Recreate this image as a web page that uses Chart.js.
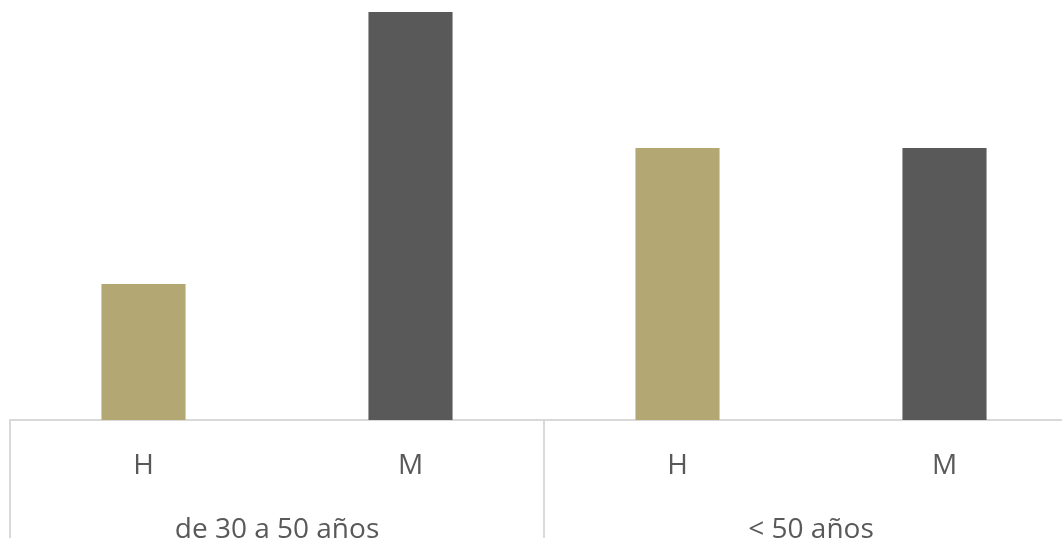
<!DOCTYPE html>
<html>
<head>
<meta charset="utf-8">
<script src="https://cdn.jsdelivr.net/npm/chart.js@4"></script>
<style>
  html, body { margin: 0; padding: 0; background: #ffffff; overflow: hidden; }
  #wrap { width: 1090px; height: 538px; position: relative; }
</style>
</head>
<body>
<div id="wrap"><canvas id="chart"></canvas></div>
<script>
// Categories: sex within each age group
const categories = ['H', 'M', 'H', 'M'];
const groups = ['de 30 a 50 años', '< 50 años'];
const values = [1, 3, 2, 2];
const barColors = ['#b3a874', '#595959', '#b3a874', '#595959'];

const gridColor = '#d9d9d9';
const textColor = '#595959';
const fontFamily = '"Open Sans", "Noto Sans", sans-serif';

// Vertical separators between the age groups, running from the axis line to the bottom
const groupSeparators = {
  id: 'groupSeparators',
  afterDraw(chart) {
    const x = chart.scales.x;
    const ctx = chart.ctx;
    const per = categories.length / groups.length;
    ctx.save();
    ctx.strokeStyle = gridColor;
    ctx.lineWidth = 2;
    for (let g = 0; g <= groups.length; g++) {
      const px = Math.round(x.getPixelForValue(g * per - 0.5));
      ctx.beginPath();
      ctx.moveTo(px, chart.chartArea.bottom);
      ctx.lineTo(px, chart.height);
      ctx.stroke();
    }
    ctx.restore();
  }
};

new Chart(document.getElementById('chart'), {
  type: 'bar',
  data: {
    labels: categories,
    datasets: [{
      data: values,
      backgroundColor: barColors,
      borderWidth: 0,
      barPercentage: 0.315,
      categoryPercentage: 1.0
    }]
  },
  options: {
    responsive: true,
    maintainAspectRatio: false,
    animation: false,
    layout: { padding: { left: 10, right: 12, top: 12, bottom: 0 } },
    plugins: { legend: { display: false }, tooltip: { enabled: false } },
    scales: {
      y: {
        display: false,
        min: 0,
        max: 3
      },
      x: {
        position: 'bottom',
        offset: true,
        grid: { display: false },
        border: { display: true, color: gridColor, width: 2 },
        ticks: {
          color: textColor,
          font: { family: fontFamily, size: 28 },
          padding: 21,
          maxRotation: 0
        },
        afterFit: (scale) => { scale.height = 58; }
      },
      x2: {
        type: 'category',
        position: 'bottom',
        labels: groups,
        offset: true,
        grid: { display: false },
        border: { display: false },
        ticks: {
          color: textColor,
          font: { family: fontFamily, size: 28 },
          padding: 27,
          maxRotation: 0
        },
        afterFit: (scale) => { scale.height = 60; }
      }
    }
  },
  plugins: [groupSeparators]
});
</script>
</body>
</html>
